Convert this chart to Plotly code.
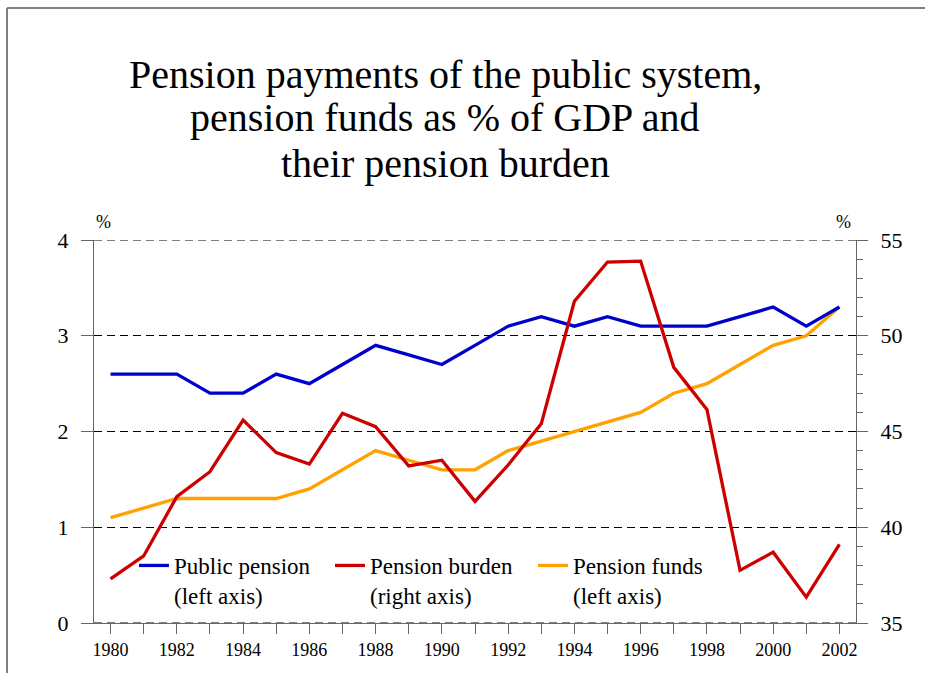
import plotly.graph_objects as go

years = list(range(1980, 2003))
public_pension = [2.6, 2.6, 2.6, 2.4, 2.4, 2.6, 2.5, 2.7, 2.9, 2.8, 2.7, 2.9,
                  3.1, 3.2, 3.1, 3.2, 3.1, 3.1, 3.1, 3.2, 3.3, 3.1, 3.3]
pension_burden = [37.3, 38.5, 41.6, 42.9, 45.6, 43.9, 43.3, 45.95, 45.25, 43.2, 43.5, 41.35,
                  43.25, 45.4, 51.8, 53.85, 53.9, 48.35, 46.15, 37.75, 38.7, 36.35, 39.1]
pension_funds = [1.1, 1.2, 1.3, 1.3, 1.3, 1.3, 1.4, 1.6, 1.8, 1.7, 1.6, 1.6,
                 1.8, 1.9, 2.0, 2.1, 2.2, 2.4, 2.5, 2.7, 2.9, 3.0, 3.3]
left_ticks = [0, 1, 2, 3, 4]
right_ticks = [35, 40, 45, 50, 55]
x_ticktext = [str(y) if y % 2 == 0 else "" for y in years]

title_lines = ["Pension payments of the public system,",
               "pension funds as % of GDP and",
               "their pension burden"]

SERIF = "Liberation Serif, Times New Roman, serif"
W, H = 925, 673
L, R, T, B = 94, 856, 240, 623

def px(x):
    return (x - L) / (R - L)

def py(y):
    return (B - y) / (B - T)

fig = go.Figure()
fig.add_trace(go.Scatter(x=years, y=pension_burden, mode="lines",
                         name="Pension burden<br>(right axis)", yaxis="y2",
                         line=dict(color="#CC0000", width=3.3), legend="legend2"))
fig.add_trace(go.Scatter(x=years, y=pension_funds, mode="lines",
                         name="Pension funds<br>(left axis)",
                         line=dict(color="#FFA200", width=3.3), legend="legend3"))
fig.add_trace(go.Scatter(x=years, y=public_pension, mode="lines",
                         name="Public pension<br>(left axis)",
                         line=dict(color="#0000CC", width=3.3), legend="legend"))

legend_common = dict(font=dict(family=SERIF, size=23, color="black"),
                     bgcolor="rgba(0,0,0,0)", valign="top",
                     xanchor="left", yanchor="top", borderwidth=0)
fig.update_layout(
    width=W, height=H,
    margin=dict(l=L, r=W - R, t=T, b=H - B),
    paper_bgcolor="white", plot_bgcolor="white",
    font=dict(family=SERIF, color="black"),
    legend=dict(x=px(134), y=py(544), **legend_common),
    legend2=dict(x=px(330), y=py(544), **legend_common),
    legend3=dict(x=px(533), y=py(544), **legend_common),
    xaxis=dict(range=[1979.5, 2002.5], tickvals=years, ticktext=x_ticktext,
               ticks="outside", ticklen=10, tickcolor="#666666", tickwidth=1,
               showline=True, linecolor="#666666", linewidth=1,
               showgrid=False, zeroline=False,
               tickfont=dict(family=SERIF, size=18, color="black")),
    yaxis=dict(range=[0, 4], tickvals=left_ticks,
               ticks="outside", ticklen=12, tickcolor="#666666", tickwidth=1,
               showline=True, linecolor="#666666", linewidth=1,
               showgrid=True, gridcolor="black", gridwidth=1, griddash="8px,5px",
               zeroline=False, ticklabelstandoff=8,
               tickfont=dict(family=SERIF, size=22, color="black")),
    yaxis2=dict(range=[35, 55], tickvals=right_ticks, overlaying="y", side="right",
                ticks="outside", ticklen=11, tickcolor="#666666", tickwidth=1,
                minor=dict(dtick=1, ticks="outside", ticklen=6, tickcolor="#666666", showgrid=False),
                showline=True, linecolor="#666666", linewidth=1,
                showgrid=False, zeroline=False, ticklabelstandoff=8,
                tickfont=dict(family=SERIF, size=22, color="black")),
    showlegend=True,
)

# dashed grid lines at the range edges (plotly omits them)
for yv in (left_ticks[0], left_ticks[-1]):
    fig.add_shape(type="line", xref="paper", yref="y", x0=0, x1=1, y0=yv, y1=yv,
                  line=dict(color="black", width=1, dash="8px,5px"), layer="above")

for line_text, cy in zip(title_lines, (74, 118, 164)):
    fig.add_annotation(x=px(445), y=py(cy), xref="paper", yref="paper",
                       text=line_text, showarrow=False, xanchor="center", yanchor="middle",
                       align="center", font=dict(family=SERIF, size=40, color="black"))
fig.add_annotation(x=px(103), y=py(222), xref="paper", yref="paper", text="%",
                   showarrow=False, xanchor="center", yanchor="middle",
                   font=dict(family=SERIF, size=18, color="black"))
fig.add_annotation(x=px(843), y=py(222), xref="paper", yref="paper", text="%",
                   showarrow=False, xanchor="center", yanchor="middle",
                   font=dict(family=SERIF, size=18, color="black"))

# outer frame (left and top edges)
fig.add_shape(type="line", xref="paper", yref="paper", x0=px(7), x1=px(7), y0=py(8), y1=py(680),
              line=dict(color="#808080", width=2))
fig.add_shape(type="line", xref="paper", yref="paper", x0=px(7), x1=px(930), y0=py(8), y1=py(8),
              line=dict(color="#808080", width=2))

fig.write_html("out.html", config={"displayModeBar": False},
               post_script="document.body.style.margin='0';document.body.style.overflow='hidden';")
